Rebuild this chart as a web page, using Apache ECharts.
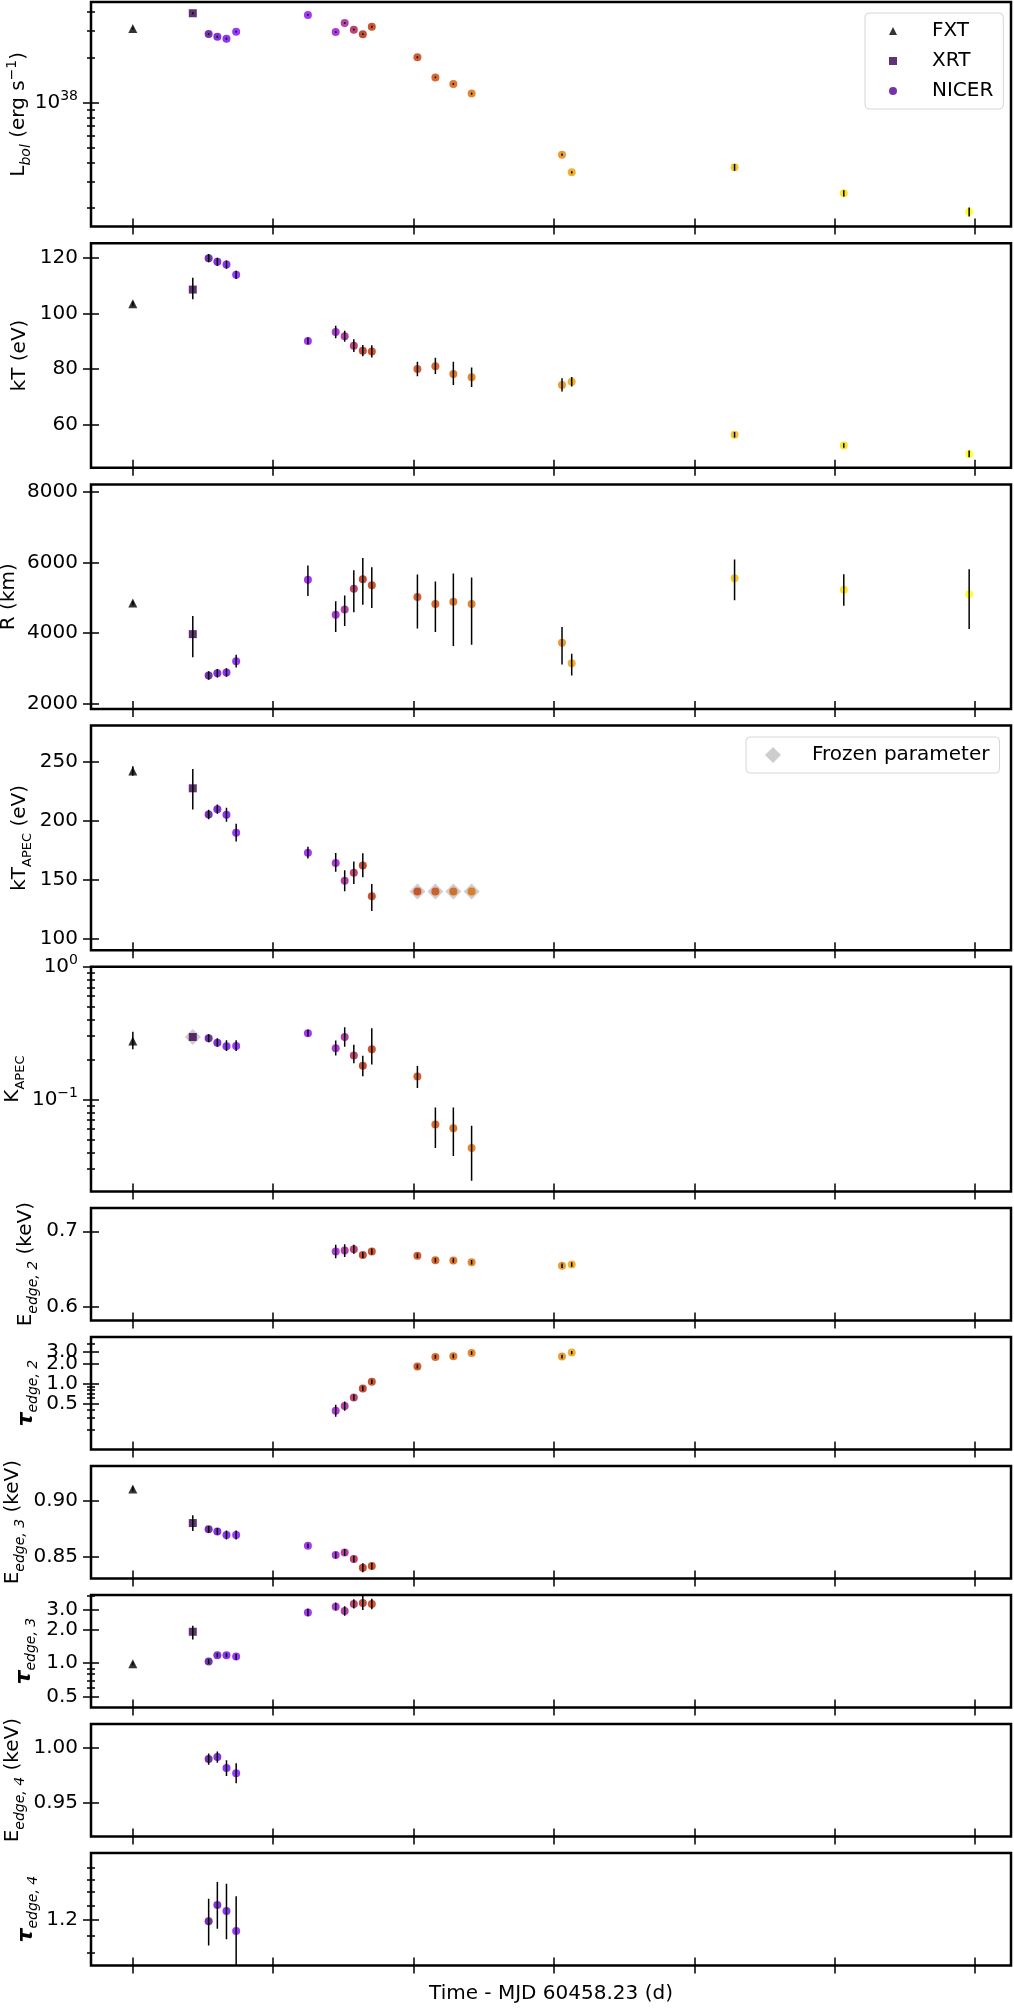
<!DOCTYPE html>
<html>
<head>
<meta charset="utf-8">
<title>Spectral evolution</title>
<script src="https://cdn.jsdelivr.net/npm/echarts@6/dist/echarts.min.js"></script>
<style>
    html, body { margin: 0; padding: 0; background: #fff; }
    #chart { width: 1014px; height: 2008px; }
</style>
</head>
<body>
<div id="chart"></div>
<script>
// observation times (d since MJD 60458.23) and instrument of each one
const time = [0, 4.27, 5.40, 6.02, 6.67, 7.36, 12.47, 14.45, 15.09, 15.74, 16.38, 17.02,
    20.27, 21.55, 22.83, 24.13, 30.57, 31.26, 42.86, 50.64, 59.57];
const instrument = ['FXT', 'XRT', 'NICER', 'NICER', 'NICER', 'NICER', 'NICER', 'NICER', 'NICER',
    'NICER', 'NICER', 'NICER', 'NICER', 'NICER', 'NICER', 'NICER', 'NICER', 'NICER', 'NICER',
    'NICER', 'NICER'];
const xTicks = [0, 10, 20, 30, 40, 50, 60];

// which observations appear in which panel
const allIdx = [0, 1, 2, 3, 4, 5, 6, 7, 8, 9, 10, 11, 12, 13, 14, 15, 16, 17, 18, 19, 20];
const apecIdx = [0, 1, 2, 3, 4, 5, 6, 7, 8, 9, 10, 11];
const normIdx = [0, 1, 2, 3, 4, 5, 6, 7, 8, 9, 10, 11, 12, 13, 14, 15];
const edge2Idx = [7, 8, 9, 10, 11, 12, 13, 14, 15, 16, 17];
const edge3Idx = [0, 1, 2, 3, 4, 5, 6, 7, 8, 9, 10, 11];
const edge4Idx = [2, 3, 4, 5];

// L_bol (erg/s)
const lbol = [3.11e38, 3.92e38, 2.86e38, 2.74e38, 2.66e38, 2.96e38, 3.82e38, 2.94e38, 3.38e38,
    3.05e38, 2.85e38, 3.19e38, 2.00e38, 1.47e38, 1.33e38, 1.15e38, 4.52e37, 3.45e37, 3.73e37,
    2.51e37, 1.89e37];
const lbolErr = [0.05e38, 0.06e38, 0.04e38, 0.04e38, 0.04e38, 0.04e38, 0.05e38, 0.04e38, 0.05e38,
    0.04e38, 0.04e38, 0.05e38, 0.03e38, 0.02e38, 0.02e38, 0.02e38, 0.08e37, 0.06e37, 0.19e37,
    0.12e37, 0.13e37];
const lbolTicks = [1e38];
const lbolMinor = [2e37, 3e37, 4e37, 5e37, 6e37, 7e37, 8e37, 9e37, 2e38, 3e38, 4e38];

// kT (eV)
const kt = [103.6, 108.7, 120.0, 118.7, 117.7, 114.0, 90.2, 93.4, 91.9, 88.5, 86.7, 86.4,
    80.1, 81.1, 78.3, 77.1, 74.3, 75.5, 56.4, 52.5, 49.5];
const ktMinus = [0.8, 3.5, 1.5, 1.5, 1.5, 1.5, 1.2, 2.2, 2.0, 2.3, 2.0, 2.2, 2.6, 2.8, 4.0, 3.5, 2.3, 1.7, 1.0, 0.8, 1.2];
const ktPlus = [0.8, 4.3, 1.5, 1.5, 1.5, 1.5, 1.2, 2.3, 2.0, 2.3, 2.0, 2.2, 2.6, 3.0, 4.4, 3.5, 2.5, 1.7, 1.0, 0.8, 1.2];
const ktTicks = [60, 80, 100, 120];

// R (km)
const radius = [4853, 3974, 2803, 2869, 2888, 3209, 5515, 4522, 4674, 5260, 5524, 5354,
    5023, 4825, 4891, 4825, 3729, 3152, 5552, 5231, 5099];
const radiusMinus = [60, 650, 120, 120, 120, 180, 460, 490, 470, 670, 720, 640, 890, 790, 1250, 1150, 615, 350, 620, 455, 980];
const radiusPlus = [60, 510, 120, 120, 120, 180, 400, 380, 390, 520, 600, 510, 640, 640, 800, 750, 450, 265, 530, 435, 710];
const radiusTicks = [2000, 4000, 6000, 8000];

// kT_APEC (eV), plus the frozen values
const ktApec = [242.4, 227.7, 205.4, 210.0, 205.2, 190.0, 173.0, 164.3, 149.1, 155.9, 162.0, 135.9];
const ktApecMinus = [4, 18, 4, 4, 6, 7.5, 5, 7.5, 9, 9.5, 10, 12.5];
const ktApecPlus = [4, 16.5, 4, 4, 6, 7.5, 5, 8.5, 9, 9.5, 10.5, 10.5];
const ktApecFrozenIdx = [12, 13, 14, 15];
const ktApecFrozen = [140, 140, 140, 140];
const ktApecTicks = [100, 150, 200, 250];

// K_APEC norm, plus the frozen value
const kApec = [0.276, 0.296, 0.289, 0.268, 0.252, 0.253, 0.316, 0.243, 0.296, 0.215, 0.180, 0.239,
    0.149, 0.0649, 0.0609, 0.0431];
const kApecMinus = [0.037, 0, 0.019, 0.018, 0.020, 0.021, 0.016, 0.028, 0.046, 0.027, 0.030, 0.055,
    0.027, 0.0218, 0.0234, 0.0186];
const kApecPlus = [0.048, 0, 0.021, 0.022, 0.028, 0.027, 0.019, 0.036, 0.055, 0.044, 0.034, 0.105,
    0.030, 0.0222, 0.0262, 0.0203];
const kApecFrozenIdx = [1];
const kApecFrozen = [0.296];
const kApecTicks = [0.1, 1];
const kApecMinor = [0.03, 0.04, 0.05, 0.06, 0.07, 0.08, 0.09, 0.2, 0.3, 0.4, 0.5, 0.6, 0.7, 0.8, 0.9];

// edge 2
const eEdge2 = [0.6730, 0.6743, 0.6761, 0.6686, 0.6730, 0.6673, 0.6615, 0.6610, 0.6589, 0.6540, 0.6558];
const eEdge2Err = [0.009, 0.0085, 0.006, 0.004, 0.004, 0.003, 0.003, 0.003, 0.003, 0.003, 0.003];
const eEdge2Ticks = [0.6, 0.7];
const tauEdge2 = [0.388, 0.456, 0.615, 0.841, 1.06, 1.80, 2.52, 2.58, 2.90, 2.55, 2.93];
const tauEdge2Minus = [0.073, 0.068, 0.06, 0.07, 0.08, 0.12, 0.16, 0.17, 0.17, 0.17, 0.16];
const tauEdge2Plus = [0.089, 0.079, 0.07, 0.08, 0.09, 0.13, 0.18, 0.18, 0.18, 0.18, 0.17];
const tauEdge2Ticks = [0.5, 1.0, 2.0, 3.0];
const tauEdge2Minor = [0.2, 0.3, 0.4, 0.6, 0.7, 0.8, 0.9, 4.0];

// edge 3
const eEdge3 = [0.9101, 0.8799, 0.8743, 0.8725, 0.8692, 0.8692, 0.8598, 0.8515, 0.8538, 0.8479, 0.8402, 0.8417];
const eEdge3Err = [0.002, 0.007, 0.003, 0.003, 0.004, 0.004, 0.002, 0.003, 0.003, 0.003, 0.004, 0.003];
const eEdge3Ticks = [0.85, 0.90];
const tauEdge3 = [0.99, 1.91, 1.035, 1.18, 1.18, 1.147, 2.84, 3.20, 2.92, 3.38, 3.44, 3.38];
const tauEdge3Minus = [0.03, 0.28, 0.05, 0.05, 0.05, 0.07, 0.22, 0.25, 0.27, 0.30, 0.45, 0.35];
const tauEdge3Plus = [0.03, 0.25, 0.05, 0.05, 0.05, 0.07, 0.22, 0.28, 0.30, 0.35, 0.54, 0.38];
const tauEdge3Ticks = [0.5, 1.0, 2.0, 3.0];
const tauEdge3Minor = [0.6, 0.7, 0.8, 0.9, 4.0];

// edge 4
const eEdge4 = [0.9896, 0.9914, 0.9815, 0.9768];
const eEdge4Err = [0.005, 0.005, 0.007, 0.009];
const eEdge4Ticks = [0.95, 1.00];
const tauEdge4 = [1.189, 1.302, 1.26, 1.127];
const tauEdge4Minus = [0.149, 0.161, 0.183, 0.25];
const tauEdge4Plus = [0.16, 0.178, 0.207, 0.24];
const tauEdge4Ticks = [1.2];
const tauEdge4Minor = [1.0, 1.1, 1.3, 1.4, 1.5, 1.6];

const FONT = 'DejaVu Sans';

// matplotlib "gnuplot" colormap
function gnuplot(x) {
    const r = Math.sqrt(x);
    const g = Math.pow(x, 3);
    const b = Math.max(0, Math.sin(2 * Math.PI * x));
    return 'rgb(' + Math.round(255 * r) + ',' + Math.round(255 * g) + ',' + Math.round(255 * b) + ')';
}

function colorOf(i) {
    return gnuplot(i / (time.length - 1));
}

// tick label formatters
const powerLabel = v => '10{sup|' + String(Math.round(v)).replace('-', '\u2212') + '}';
const tauLabel = v => Math.pow(10, v).toFixed(1);
const intLabel = v => String(Math.round(v));
const dec1Label = v => v.toFixed(1);
const dec2Label = v => v.toFixed(2);

const panels = [
    { idx: allIdx, val: lbol, minus: lbolErr, plus: lbolErr, log: true, min: 37.178, max: 38.668,
      ticks: lbolTicks, minor: lbolMinor, fmt: powerLabel, name: 'L{it|bol} (erg s{sup|\u22121})', gap: 58 },
    { idx: allIdx, val: kt, minus: ktMinus, plus: ktPlus, min: 44.5, max: 125.4,
      ticks: ktTicks, fmt: intLabel, name: 'kT (eV)', gap: 57 },
    { idx: allIdx, val: radius, minus: radiusMinus, plus: radiusPlus, min: 1858, max: 8208,
      ticks: radiusTicks, fmt: intLabel, name: 'R (km)', gap: 68 },
    { idx: apecIdx, val: ktApec, minus: ktApecMinus, plus: ktApecPlus, min: 90.1, max: 281,
      ticks: ktApecTicks, fmt: intLabel, name: 'kT{sub|APEC} (eV)', gap: 57,
      frozenIdx: ktApecFrozenIdx, frozen: ktApecFrozen, frozenShown: true },
    { idx: normIdx, val: kApec, minus: kApecMinus, plus: kApecPlus, log: true, min: -1.692, max: 0,
      ticks: kApecTicks, minor: kApecMinor, fmt: powerLabel, name: 'K{sub|APEC}', gap: 64,
      frozenIdx: kApecFrozenIdx, frozen: kApecFrozen },
    { idx: edge2Idx, val: eEdge2, minus: eEdge2Err, plus: eEdge2Err, min: 0.5814, max: 0.731,
      ticks: eEdge2Ticks, fmt: dec1Label, name: 'E{it|edge, 2} (keV)', gap: 51 },
    { idx: edge2Idx, val: tauEdge2, minus: tauEdge2Minus, plus: tauEdge2Plus, log: true, min: -0.995, max: 0.7025,
      ticks: tauEdge2Ticks, minor: tauEdge2Minor, fmt: tauLabel, name: '{tau|\u03c4}{it|edge, 2}', gap: 51 },
    { idx: edge3Idx, val: eEdge3, minus: eEdge3Err, plus: eEdge3Err, min: 0.8308, max: 0.9305,
      ticks: eEdge3Ticks, fmt: dec2Label, name: 'E{it|edge, 3} (keV)', gap: 64 },
    { idx: edge3Idx, val: tauEdge3, minus: tauEdge3Minus, plus: tauEdge3Plus, log: true, min: -0.394, max: 0.609,
      ticks: tauEdge3Ticks, minor: tauEdge3Minor, fmt: tauLabel, name: '{tau|\u03c4}{it|edge, 3}', gap: 53 },
    { idx: edge4Idx, val: eEdge4, minus: eEdge4Err, plus: eEdge4Err, min: 0.9202, max: 1.0211,
      ticks: eEdge4Ticks, fmt: dec2Label, name: 'E{it|edge, 4} (keV)', gap: 64 },
    { idx: edge4Idx, val: tauEdge4, minus: tauEdge4Minus, plus: tauEdge4Plus, log: true, min: -0.0313, max: 0.2405,
      ticks: tauEdge4Ticks, minor: tauEdge4Minor, fmt: tauLabel, name: '{tau|\u03c4}{it|edge, 4}', gap: 51 }
];

// layout of the stacked panels
const gridLeft = 91;
const gridWidth = 920;
const gridTop = [2, 243.2, 484.4, 725.6, 966.8, 1208, 1337, 1466, 1595, 1724, 1853];
const gridHeight = [224.6, 224.6, 224.6, 224.6, 224.6, 112.4, 112.4, 112.4, 112.4, 112.4, 112.4];

const symbols = { FXT: 'triangle', XRT: 'rect', NICER: 'circle' };
const symbolSizes = { FXT: 9, XRT: 8, NICER: 8 };

const richText = {
    it: { fontSize: 14, fontStyle: 'italic', fontFamily: FONT, color: '#000', verticalAlign: 'bottom', lineHeight: 14 },
    sub: { fontSize: 13, fontFamily: FONT, color: '#000', verticalAlign: 'bottom', lineHeight: 14 },
    sup: { fontSize: 14, fontFamily: FONT, color: '#000', verticalAlign: 'top', lineHeight: 14 },
    tau: { fontSize: 22, fontStyle: 'italic', fontWeight: 'bold', fontFamily: FONT, color: '#000', lineHeight: 28 }
};

const tickLine = { color: '#000', width: 1.5 };

function tickAxis(base, values, length, inside) {
    return Object.assign({}, base, {
        axisLine: { show: false, onZero: false },
        splitLine: { show: false },
        axisLabel: { show: false },
        axisTick: { show: true, inside: inside, length: length, customValues: values, lineStyle: tickLine }
    });
}

function labelAxis(base, values, fmt, rich) {
    const axis = tickAxis(base, [], 0, false);
    axis.axisTick = { show: false };
    axis.axisLabel = {
        show: true, customValues: values, formatter: fmt, margin: 13, hideOverlap: false,
        fontSize: 20, fontFamily: FONT, color: '#000', lineHeight: rich ? 26 : 20, rich: richText
    };
    return axis;
}

function buildOption() {
    const grid = [], xAxis = [], yAxis = [], series = [];

    panels.forEach(function(p, k) {
        const toY = p.log ? (v => Math.log10(v)) : (v => v);
        grid.push({
            left: gridLeft, top: gridTop[k], width: gridWidth, height: gridHeight[k],
            containLabel: false, outerBoundsMode: 'none',
            show: true, borderColor: '#000', borderWidth: 2.5, backgroundColor: 'transparent'
        });

        // x axes: outside ticks + inside ticks
        const xi = xAxis.length;
        const xBase = { type: 'value', gridIndex: k, min: -2.98, max: 62.55, position: 'bottom' };
        const xMain = tickAxis(xBase, xTicks, 8, false);
        if (k === panels.length - 1) {
            xMain.name = 'Time - MJD 60458.23 (d)';
            xMain.nameLocation = 'middle';
            xMain.nameGap = 18;
            xMain.nameTextStyle = { fontSize: 20, fontFamily: FONT, color: '#000' };
        }
        xAxis.push(xMain);
        xAxis.push(tickAxis(xBase, xTicks, 8, true));

        // y axes: major ticks + name, inside ticks, labels (alternating), minor ticks
        const yi = yAxis.length;
        const tickVals = p.ticks.map(toY);
        const yBase = { type: 'value', gridIndex: k, min: p.min, max: p.max, position: 'left' };
        const yMain = tickAxis(yBase, tickVals, 8, false);
        yMain.name = p.name;
        yMain.nameLocation = 'middle';
        yMain.nameRotate = 90;
        yMain.nameGap = p.gap;
        yMain.nameTextStyle = { fontSize: 20, fontFamily: FONT, color: '#000', lineHeight: 28, rich: richText };
        yAxis.push(yMain);
        yAxis.push(tickAxis(yBase, tickVals, 8, true));
        // tick labels split over two axes so close labels are never dropped
        const rich = p.fmt === powerLabel;
        yAxis.push(labelAxis(yBase, tickVals.filter((v, i) => i % 2 === 0), p.fmt, rich));
        if (tickVals.length > 1) {
            yAxis.push(labelAxis(yBase, tickVals.filter((v, i) => i % 2 === 1), p.fmt, rich));
        }
        if (p.minor) {
            const minorVals = p.minor.map(toY);
            yAxis.push(tickAxis(yBase, minorVals, 4, false));
            yAxis.push(tickAxis(yBase, minorVals, 4, true));
        }

        // frozen parameter diamonds behind the points
        if (p.frozenIdx) {
            series.push({
                type: 'scatter', name: 'Frozen parameter', xAxisIndex: xi, yAxisIndex: yi,
                symbol: 'diamond', symbolSize: 16, silent: true, z: 2,
                itemStyle: { color: '#c0c0c0' },
                data: p.frozenIdx.map((ti, j) => [time[ti], toY(p.frozen[j])])
            });
        }

        // points per instrument, coloured by observation order
        const pointIdx = p.idx.concat(p.frozenShown ? p.frozenIdx : []);
        const pointVal = p.val.concat(p.frozenShown ? p.frozen : []);
        ['FXT', 'XRT', 'NICER'].forEach(function(inst) {
            const data = [];
            pointIdx.forEach(function(ti, j) {
                if (instrument[ti] !== inst) return;
                data.push({ value: [time[ti], toY(pointVal[j])], itemStyle: { color: colorOf(ti) } });
            });
            if (!data.length) return;
            series.push({
                type: 'scatter', name: inst, xAxisIndex: xi, yAxisIndex: yi,
                symbol: symbols[inst], symbolSize: symbolSizes[inst], silent: true, z: 3, data: data
            });
        });

        // error bars
        const errData = [];
        p.idx.forEach(function(ti, j) {
            if (!p.minus[j] && !p.plus[j]) return;
            errData.push([time[ti], toY(p.val[j] - p.minus[j]), toY(p.val[j] + p.plus[j])]);
        });
        series.push({
            type: 'custom', xAxisIndex: xi, yAxisIndex: yi, silent: true, z: 4, clip: true,
            encode: { x: 0, y: [1, 2] },
            renderItem: function(params, api) {
                const a = api.coord([api.value(0), api.value(1)]);
                const b = api.coord([api.value(0), api.value(2)]);
                return {
                    type: 'line',
                    shape: { x1: a[0], y1: a[1], x2: b[0], y2: b[1] },
                    style: { stroke: '#000', lineWidth: 1.5 }
                };
            },
            data: errData
        });
    });

    const legend = [
        {
            left: 865, top: 13, orient: 'vertical', selectedMode: false,
            itemWidth: 8, itemHeight: 8, itemGap: 10, padding: [8, 10, 8, 24],
            borderColor: '#d6d6d6', borderWidth: 1, borderRadius: 4, backgroundColor: 'rgba(255,255,255,0.8)',
            textStyle: { fontSize: 20, fontFamily: FONT, color: '#000', lineHeight: 20, padding: [0, 0, 0, 30] },
            data: [
                { name: 'FXT', icon: 'triangle', itemStyle: { color: colorOf(0) } },
                { name: 'XRT', icon: 'rect', itemStyle: { color: colorOf(1) } },
                { name: 'NICER', icon: 'circle', itemStyle: { color: colorOf(2) } }
            ]
        },
        {
            left: 746, top: 737, orient: 'vertical', selectedMode: false,
            itemWidth: 16, itemHeight: 16, padding: [8, 10, 8, 19],
            borderColor: '#d6d6d6', borderWidth: 1, borderRadius: 4, backgroundColor: 'rgba(255,255,255,0.8)',
            textStyle: { fontSize: 20, fontFamily: FONT, color: '#000', lineHeight: 20, padding: [0, 0, 0, 26] },
            data: [{ name: 'Frozen parameter', icon: 'diamond', itemStyle: { color: '#c0c0c0' } }]
        }
    ];

    return { animation: false, backgroundColor: '#fff', grid, xAxis, yAxis, legend, series };
}

document.addEventListener('DOMContentLoaded', function() {
    const chart = echarts.init(document.getElementById('chart'));
    chart.setOption(buildOption());
});
</script>
</body>
</html>
